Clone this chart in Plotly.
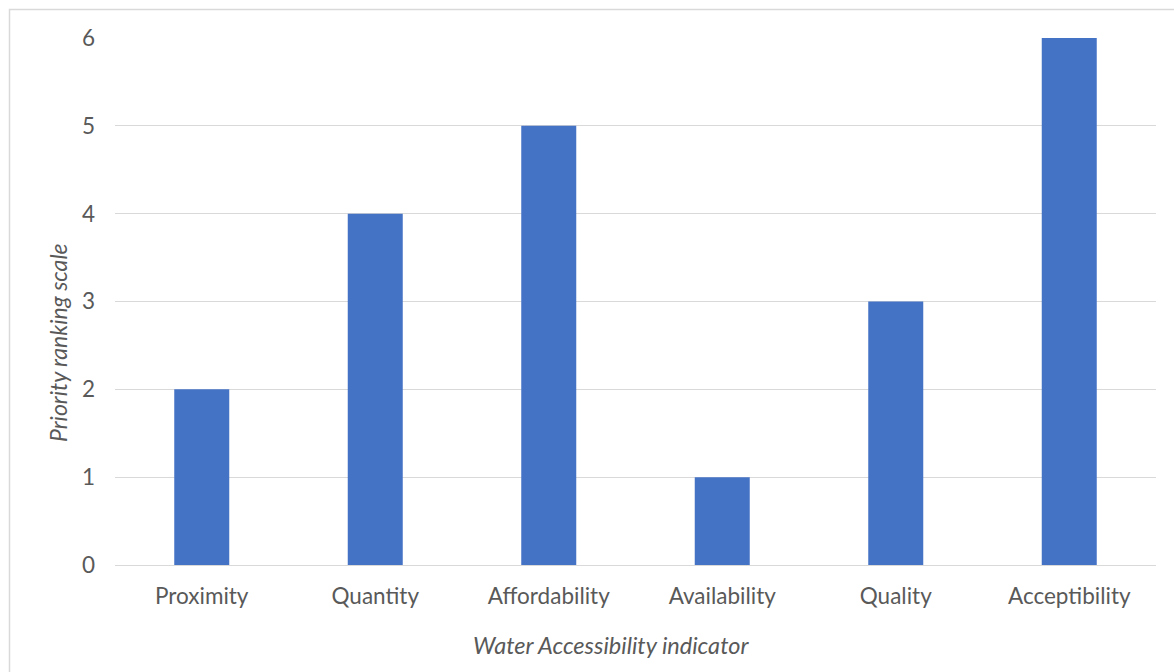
import plotly.graph_objects as go

categories = ["Proximity", "Quantity", "Affordability", "Availability", "Quality", "Acceptibility"]
values = [2, 4, 5, 1, 3, 6]
y_ticks = [0, 1, 2, 3, 4, 5, 6]

W, H = 1174, 672
L, R, T, B = 115, 18, 38, 107
pw, ph = W - L - R, H - T - B

def px(x):
    return (x - L) / pw

def py(y):
    return (H - B - y) / ph

fig = go.Figure(go.Bar(x=categories, y=values, marker_color="#4472C4", marker_line_width=0))

font_family = "Lato, Open Sans, sans-serif"
grey = "#595959"
fig.update_layout(
    width=W, height=H,
    margin=dict(l=L, r=R, t=T, b=B),
    paper_bgcolor="white", plot_bgcolor="white",
    bargap=0.683,
    showlegend=False,
    font=dict(family=font_family, size=22.5, color=grey),
    xaxis=dict(
        showgrid=False, showline=True, linecolor="#d9d9d9", linewidth=1,
        ticks="", tickfont=dict(size=22.5, color=grey), ticklabelstandoff=11,
    ),
    yaxis=dict(
        range=[0, 6], tickvals=y_ticks, showgrid=True, gridcolor="#d9d9d9", gridwidth=1,
        zeroline=False, showline=False, ticks="",
        tickfont=dict(size=22.5, color=grey), ticklabelstandoff=19,
    ),
    annotations=[
        dict(text="<i>Water Accessibility indicator</i>", xref="paper", yref="paper",
             x=px(611), y=py(645), xanchor="center", yanchor="middle", showarrow=False,
             font=dict(size=23.5, color=grey)),
        dict(text="<i>Priority ranking scale</i>", xref="paper", yref="paper",
             x=px(58), y=py(343), xanchor="center", yanchor="middle", showarrow=False,
             textangle=-90, font=dict(size=23, color=grey)),
    ],
    shapes=[dict(
        type="rect", xref="paper", yref="paper",
        x0=px(9.5), x1=px(1200),
        y0=py(H + 20), y1=py(9.5),
        line=dict(color="#d9d9d9", width=1.5), fillcolor="rgba(0,0,0,0)", layer="below",
    )],
)

fig.write_html("out.html")
